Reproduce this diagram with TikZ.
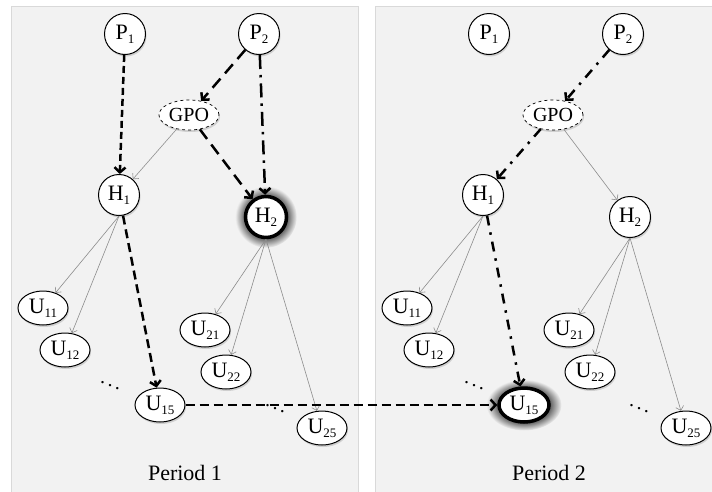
\documentclass[tikz,border=0pt]{standalone}
\usepackage{fontspec}
\setmainfont{Liberation Serif}
\usetikzlibrary{shapes.geometric, shadows, fadings, arrows.meta}
\newcommand\lowsub[1]{\raisebox{-4pt}{\fontsize{13}{13}\selectfont #1}}
\pgfdeclareradialshading{softglowshade}{\pgfpointorigin}{color(0bp)=(pgftransparent!0); color(14bp)=(pgftransparent!0); color(25bp)=(pgftransparent!100); color(50bp)=(pgftransparent!100)}
\pgfdeclarefading{softglow}{\pgfuseshading{softglowshade}}
\tikzset{
    agent/.style = {circle,draw,fill=white,line width=1pt,minimum size=41pt,inner sep=0pt,font=\fontsize{22}{22}\selectfont},
    user/.style  = {ellipse,draw,fill=white,line width=1pt,minimum width=50pt,minimum height=34pt,inner sep=0pt,font=\fontsize{22}{22}\selectfont},
    gpo/.style   = {ellipse,draw,dashed,fill=white,line width=0.7pt,minimum width=60pt,minimum height=30pt,inner sep=0pt,font=\fontsize{20}{20}\selectfont},
    lift/.style  = {drop shadow={opacity=0.3,shadow xshift=1pt,shadow yshift=-2pt}},
    focus/.style = {line width=3.5pt,general shadow={shadow scale=1.5,path fading=softglow,fill=black!85}},
    gapdots/.style = {inner sep=0pt,font=\fontsize{20}{20}\selectfont},
    panel/.style = {fill=black!5,draw=black!15,line width=1pt},
    tie/.style   = {-{Straight Barb[length=4pt,width=8pt]},black!45,line width=0.6pt},
    flow/.style  = {-{Straight Barb[length=5pt,width=11pt]},line width=2.5pt},
    flowa/.style = {flow,dash pattern=on 7pt off 4pt},
    flowb/.style = {flow,dash pattern=on 12pt off 7pt},
    flowc/.style = {flow,dash pattern=on 14pt off 6pt on 2.5pt off 6pt},
    flowd/.style = {flow,dash pattern=on 9pt off 5pt},
    flowe/.style = {flow,dash pattern=on 10pt off 7pt on 2.5pt off 7pt}
}
\begin{document}
\begin{tikzpicture}[x=1pt,y=-1pt]
    \useasboundingbox (0,0) rectangle (712,491);
    \draw [panel] (11,6) rectangle (358,495);
    \draw [panel] (375,6) rectangle (716,495);
    % the same market in both periods
    \foreach \p/\dx/\hh/\uu in {1/0/focus/lift, 2/364/lift/focus} {
        \begin{scope}[xshift=\dx pt]
            \node [agent, lift] (P1-\p) at (125,34) {P\lowsub{1}};
            \node [agent, lift] (P2-\p) at (259,34) {P\lowsub{2}};
            \node [gpo, lift] (G-\p) at (189,115) {GPO};
            \node [agent, lift] (H1-\p) at (119,195) {H\lowsub{1}};
            \node [agent, \hh] (H2-\p) at (266,217) {H\lowsub{2}};
            \node [user, lift] (U11-\p) at (43,308) {U\lowsub{11}};
            \node [user, lift] (U12-\p) at (65,350) {U\lowsub{12}};
            \node [user, lift] (U21-\p) at (205,330) {U\lowsub{21}};
            \node [user, lift] (U22-\p) at (226,372) {U\lowsub{22}};
            \node [user, \uu] (U15-\p) at (160,405) {U\lowsub{15}};
            \node [user, lift] (U25-\p) at (322,428) {U\lowsub{25}};
            \node [gapdots] (D1-\p) at (110,382) {$\ddots$};
            \node [gapdots] (D2-\p) at (275,405) {$\ddots$};
            \node [font=\fontsize{22}{22}\selectfont] (T-\p) at (185,473) {Period \p};
        \end{scope}
        \foreach \u in {11,12} \draw [tie] (H1-\p.south) -- (U\u-\p);
        \foreach \u in {21,22,25} \draw [tie] (H2-\p.south) -- (U\u-\p);
    }
    \draw [tie] (G-1) -- (H1-1);
    \draw [tie] (G-2) -- (H2-2);
    % period 1
    \draw [flowa] (P1-1) -- (H1-1);
    \draw [flowb] (P2-1) -- (G-1);
    \draw [flowc] (P2-1) -- (H2-1);
    \draw [flowb] (G-1) -- (H2-1);
    \draw [flowd] (H1-1) -- (U15-1);
    \draw [flowd] (U15-1) -- (U15-2);
    % period 2
    \draw [flowe] (P2-2) -- (G-2);
    \draw [flowe] (G-2) -- (H1-2);
    \draw [flowe] (H1-2) -- (U15-2);
\end{tikzpicture}
\end{document}
